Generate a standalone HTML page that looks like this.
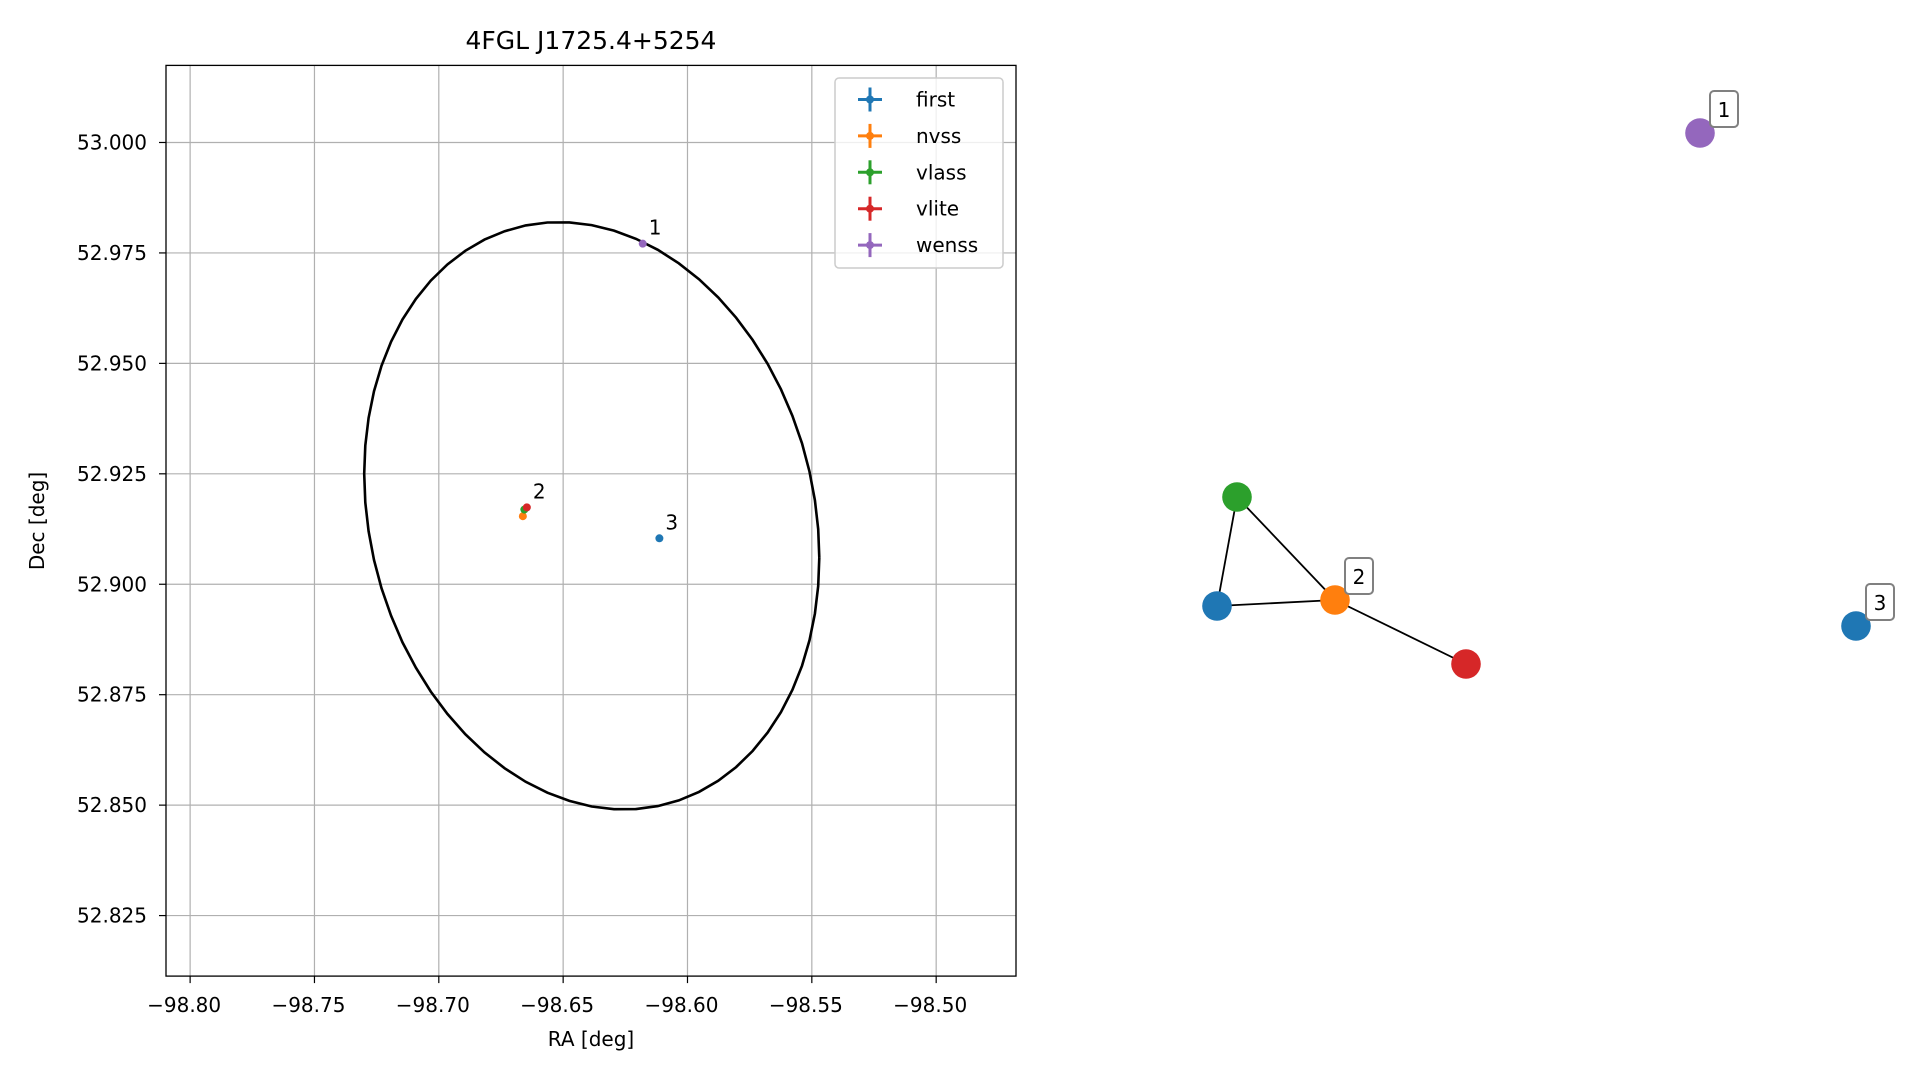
<!DOCTYPE html>
<html><head><meta charset="utf-8"><style>
html,body{margin:0;padding:0;background:#fff;}
svg{display:block;font-family:"DejaVu Sans","Liberation Sans",sans-serif;}
</style></head><body>
<svg id="chart" width="1919" height="1080" viewBox="0 0 1919 1080" xmlns="http://www.w3.org/2000/svg">
<g id="left"></g>
<g id="right"></g>
</svg>
<script>
// ---- left chart data ----
const xTicks = [-98.80, -98.75, -98.70, -98.65, -98.60, -98.55, -98.50];
const xTickLabels = ["\u221298.80","\u221298.75","\u221298.70","\u221298.65","\u221298.60","\u221298.55","\u221298.50"];
const yTicks = [52.825, 52.850, 52.875, 52.900, 52.925, 52.950, 52.975, 53.000];
const yTickLabels = ["52.825","52.850","52.875","52.900","52.925","52.950","52.975","53.000"];
const seriesNames = ["first","nvss","vlass","vlite","wenss"];
const seriesColors = ["#1f77b4","#ff7f0e","#2ca02c","#d62728","#9467bd"];
const pointRA  = [-98.6113, -98.6662, -98.6656, -98.6646, -98.6180];
const pointDec = [52.9104, 52.9154, 52.9169, 52.9174, 52.9771];
const groupLabels = ["1","2","3"];
const groupRA  = [-98.6180, -98.6646, -98.6113];
const groupDec = [52.9771, 52.9174, 52.9104];
// ellipse: center RA, center Dec, RA half-width, Dec half-height, tilt coupling
const ellipseCenter = [-98.6385, 52.9155];
const ellipseAxes = [0.0915, 0.0658];
const ellipseTilt = [-0.0095];

// ---- right graph data ----
const nodeColors = ["#9467bd","#2ca02c","#1f77b4","#ff7f0e","#d62728","#1f77b4"];
const nodeX = [1700, 1237, 1217, 1335, 1466, 1856];
const nodeY = [133, 497, 606, 600, 664, 626];
const edges = [[1,2],[1,3],[2,3],[3,4]];
const nodeLabelIdx = [0, 3, 5];
const nodeLabels = ["1","2","3"];

const NS = "http://www.w3.org/2000/svg";
function mk(tag, attrs, parent){const e=document.createElementNS(NS,tag);for(const k in attrs)e.setAttribute(k,attrs[k]);parent.appendChild(e);return e;}

const L = document.getElementById('left');
const ax = {l:166, r:1016, t:65.4, b:976.1};
const xmin=-98.8097, xmax=-98.4679, ymin=52.8113, ymax=53.01745;
const sx = v => ax.l + (v - xmin)/(xmax - xmin)*(ax.r - ax.l);
const sy = v => ax.b - (v - ymin)/(ymax - ymin)*(ax.b - ax.t);

// grid + ticks
xTicks.forEach((v,i)=>{
  const x=sx(v);
  let g=mk('line',{x1:x,x2:x,y1:ax.t,y2:ax.b,stroke:'#b0b0b0','stroke-width':1.2},L);
  
  
  let tk=mk('line',{x1:x,x2:x,y1:ax.b,y2:ax.b+7,stroke:'#000','stroke-width':1.2},L);
  
  
  let t=mk('text',{x:x-6,y:1012,'font-size':20,'text-anchor':'middle'},L);
  t.textContent=xTickLabels[i];
  
  
});
yTicks.forEach((v,i)=>{
  const y=sy(v);
  let g=mk('line',{x1:ax.l,x2:ax.r,y1:y,y2:y,stroke:'#b0b0b0','stroke-width':1.2},L);
  
  
  let tk=mk('line',{x1:ax.l-7,x2:ax.l,y1:y,y2:y,stroke:'#000','stroke-width':1.2},L);
  
  
  let t=mk('text',{x:147,y:y+7,'font-size':20,'text-anchor':'end'},L);
  t.textContent=yTickLabels[i];
  
  
});

// ellipse
let pts=[];
for(let k=0;k<=64;k++){const t=k/64*2*Math.PI;
  const ra=ellipseCenter[0]+ellipseAxes[0]*Math.cos(t);
  const de=ellipseCenter[1]+ellipseAxes[1]*Math.sin(t)+ellipseTilt[0]*Math.cos(t);
  pts.push(sx(ra).toFixed(1)+','+sy(de).toFixed(1));}
let el=mk('polyline',{points:pts.join(' '),fill:'none',stroke:'#000','stroke-width':2.6},L);



// points
pointRA.forEach((v,i)=>{
  let c=mk('circle',{cx:sx(v),cy:sy(pointDec[i]),r:4,fill:seriesColors[i]},L);
  
  
});
groupRA.forEach((v,i)=>{
  let t=mk('text',{x:sx(v)+6,y:sy(groupDec[i])-9,'font-size':20},L);
  t.textContent=groupLabels[i];
  
  
});

// axes frame
let fr=mk('rect',{x:ax.l,y:ax.t,width:ax.r-ax.l,height:ax.b-ax.t,fill:'none',stroke:'#000','stroke-width':1.3},L);



let title=mk('text',{x:591,y:49,'font-size':25,'text-anchor':'middle'},L);
title.textContent='4FGL J1725.4+5254';


let xl=mk('text',{x:591,y:1046,'font-size':20,'text-anchor':'middle'},L);
xl.textContent='RA [deg]';


let yl=mk('text',{x:44,y:521,'font-size':20,'text-anchor':'middle',transform:'rotate(-90 44 521)'},L);
yl.textContent='Dec [deg]';



// legend
let lg=mk('g',{},L);


let lb=mk('rect',{x:835,y:78,width:168,height:190,rx:4,fill:'#fff','fill-opacity':0.8,stroke:'#cccccc','stroke-width':1.5},lg);


seriesNames.forEach((n,i)=>{
  const y=99.5+i*36.4;
  let e=mk('g',{},lg);
  
  
  mk('line',{x1:858,x2:882,y1:y,y2:y,stroke:seriesColors[i],'stroke-width':3},e);
  mk('line',{x1:870,x2:870,y1:y-12,y2:y+12,stroke:seriesColors[i],'stroke-width':3},e);
  mk('circle',{cx:870,cy:y,r:4,fill:seriesColors[i]},e);
  let t=mk('text',{x:916,y:y+7,'font-size':20},e);
  t.textContent=n;
});

// right graph
const R=document.getElementById('right');
edges.forEach(([a,b])=>{
  let ln=mk('line',{x1:nodeX[a],y1:nodeY[a],x2:nodeX[b],y2:nodeY[b],stroke:'#000','stroke-width':1.8},R);
  
  
});
nodeX.forEach((x,i)=>{
  let c=mk('circle',{cx:x,cy:nodeY[i],r:14.8,fill:nodeColors[i]},R);
  
  
});
nodeLabelIdx.forEach((idx,i)=>{
  const bx=nodeX[idx]+10, by=nodeY[idx]-42;
  let g=mk('g',{},R);
  
  
  mk('rect',{x:bx,y:by,width:28,height:36,rx:4,fill:'#fff',stroke:'#808080','stroke-width':2},g);
  let t=mk('text',{x:bx+14,y:by+26,'font-size':20,'text-anchor':'middle'},g);
  t.textContent=nodeLabels[i];
});
</script>
</body></html>
